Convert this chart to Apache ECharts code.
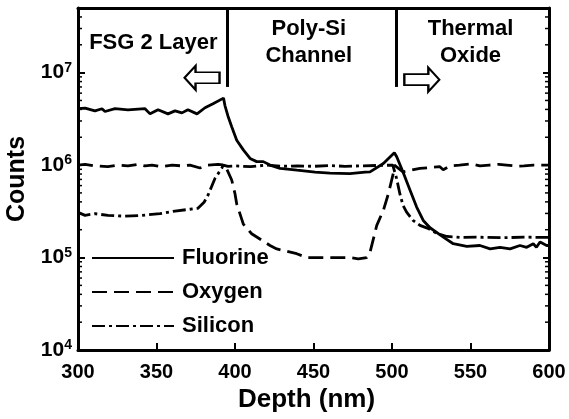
<!DOCTYPE html>
<html>
<head>
<meta charset="utf-8">
<script src="https://cdn.jsdelivr.net/npm/echarts@6/dist/echarts.min.js"></script>
<style>
  html, body { margin: 0; padding: 0; background: #fff; }
  #chart { width: 569px; height: 419px; }
</style>
</head>
<body>
<div id="chart"></div>
<script>
// depth (nm) / counts
const fluorine = [
  [300, 4.07e6], [304.5, 4.13e6], [310.8, 3.86e6], [315.3, 4.07e6], [317.2, 3.8e6],
  [323.6, 4.07e6], [331.8, 3.96e6], [342.7, 4.07e6], [345.9, 3.58e6], [351, 3.96e6],
  [357.3, 3.58e6], [361.8, 3.86e6], [366.2, 3.67e6], [370, 3.96e6], [375.8, 3.58e6],
  [380.9, 4.17e6], [386, 4.6e6], [392.7, 5.3e6], [393.6, 4.4e6], [395.5, 3.4e6],
  [397.9, 2.6e6], [401.1, 1.86e6], [405.3, 1.46e6], [409.6, 1.18e6], [413.8, 1.09e6],
  [418, 1.09e6], [422.3, 1.0e6], [428.7, 9.2e5], [439.5, 8.8e5], [451, 8.4e5],
  [460.5, 8.2e5], [473.2, 8.1e5], [482.8, 8.4e5], [486, 8.45e5], [494.5, 1.04e6],
  [501.5, 1.36e6], [503, 1.23e6], [507, 8.4e5], [511.5, 5.35e5], [515.7, 3.52e5],
  [519.9, 2.52e5], [524.2, 2.1e5], [532.7, 1.66e5], [539, 1.41e5], [547.6, 1.32e5],
  [556, 1.35e5], [562.5, 1.24e5], [568.8, 1.29e5], [575.2, 1.24e5], [581.5, 1.35e5],
  [585.8, 1.29e5], [590, 1.41e5], [592, 1.29e5], [594.3, 1.47e5], [598.5, 1.35e5],
  [600, 1.35e5]
];
const oxygen = [
  [300, 1.0e6], [304.5, 1.02e6], [310.8, 0.98e6], [319, 0.96e6], [325.5, 1.0e6],
  [331.8, 0.98e6], [338.2, 1.02e6], [342.7, 0.98e6], [347.1, 1.0e6], [353.5, 0.96e6],
  [359.9, 1.0e6], [366.2, 0.98e6], [371.3, 1.0e6], [377.7, 0.93e6], [382.8, 1.0e6],
  [389.2, 1.02e6], [393.6, 1.0e6], [397.9, 6.9e5], [400, 4.9e5], [401.1, 3.8e5],
  [405.3, 2.3e5], [410.6, 1.81e5], [422.3, 1.35e5], [426.6, 1.24e5], [439.3, 1.1e5],
  [445.7, 1.0e5], [456.2, 1.0e5], [462.6, 1.0e5], [473.2, 1.0e5], [478.5, 9.7e4],
  [483.9, 1.0e5], [486, 1.14e5], [490.3, 2.23e5], [494.5, 3.24e5], [497.7, 4.9e5],
  [500.8, 8.1e5], [501.5, 1.0e6], [507, 8.45e5], [517.8, 9.2e5], [530.5, 0.96e6],
  [532.6, 0.89e6], [537, 0.98e6], [543, 1.0e6], [550, 1.03e6], [556, 0.98e6],
  [562, 1.0e6], [568, 1.02e6], [573, 1.0e6], [580, 0.97e6], [584, 0.98e6],
  [590, 1.0e6], [600, 1.0e6]
];
const silicon = [
  [300, 3.08e5], [304.5, 2.86e5], [310.8, 2.98e5], [319.1, 2.86e5], [330, 2.8e5],
  [340.8, 2.86e5], [352.2, 2.98e5], [361.8, 3.18e5], [371.3, 3.33e5], [376.4, 3.41e5],
  [380.3, 3.96e5], [382.8, 4.72e5], [387.3, 7.2e5], [391.5, 9.2e5], [392.5, 1.0e6],
  [395.5, 0.97e6], [400, 0.98e6], [410, 0.96e6], [420, 1.0e6], [430, 0.97e6],
  [440, 0.98e6], [450, 0.97e6], [460, 0.99e6], [470, 0.97e6], [480, 0.98e6],
  [490, 0.99e6], [500.5, 1.0e6], [502.9, 7.2e5], [505, 4.9e5], [507, 3.67e5],
  [509.3, 3.1e5], [513.4, 2.52e5], [517.8, 2.23e5], [522.9, 2.07e5], [528.7, 1.82e5],
  [535, 1.69e5], [543.3, 1.65e5], [555, 1.66e5], [570, 1.64e5], [585, 1.66e5],
  [600, 1.65e5]
];

const seriesNames = ['Fluorine', 'Oxygen', 'Silicon'];
const minorTicks = [
  2e4, 3e4, 4e4, 5e4, 6e4, 7e4, 8e4, 9e4,
  2e5, 3e5, 4e5, 5e5, 6e5, 7e5, 8e5, 9e5,
  2e6, 3e6, 4e6, 5e6, 6e6, 7e6, 8e6, 9e6,
  2e7, 3e7, 4e7
];
// layer boundaries (nm) and region labels
const boundaries = [395, 503];
const regions = [
  { text: 'FSG 2 Layer', at: [348, 2.1e7] },
  { text: 'Poly-Si\nChannel', at: [447, 2.1e7] },
  { text: 'Thermal\nOxide', at: [550, 2.1e7] }
];

const font = 'Liberation Sans, Arial, sans-serif';
const chart = echarts.init(document.getElementById('chart'));

const leftArrow = 'path://M0,12 L11,0 L11,6.5 L35,6.5 L35,17.5 L11,17.5 L11,24 Z';
const rightArrow = 'path://M35,12 L24,0 L24,6.5 L0,6.5 L0,17.5 L24,17.5 L24,24 Z';

chart.setOption({
  animation: false,
  backgroundColor: '#fff',
  grid: { left: 78, right: 20, top: 8, bottom: 69, containLabel: false, outerBoundsMode: 'none' },
  legend: {
    data: seriesNames,
    orient: 'vertical',
    left: 86,
    top: 242,
    itemWidth: 82,
    itemHeight: 14,
    itemGap: 12,
    itemStyle: { opacity: 0 },
    textStyle: { fontFamily: font, fontWeight: 'bold', fontSize: 22, color: '#000', lineHeight: 22, padding: [0, 0, 0, 3] }
  },
  xAxis: [{
    type: 'value',
    min: 300, max: 600, interval: 50,
    name: 'Depth (nm)',
    nameLocation: 'middle',
    nameGap: 34,
    nameTextStyle: { fontFamily: font, fontWeight: 'bold', fontSize: 26, color: '#000', padding: [0, 14, 0, 0] },
    axisLine: { lineStyle: { color: '#000', width: 3 } },
    axisTick: { inside: true, length: 7, lineStyle: { color: '#000', width: 2 } },
    axisLabel: { margin: 12, fontFamily: font, fontWeight: 'bold', fontSize: 20, color: '#000' },
    splitLine: { show: false }
  }, {
    type: 'value',
    position: 'top',
    min: 300, max: 600,
    axisLine: { show: true, lineStyle: { color: '#000', width: 3 } },
    axisTick: { show: false },
    axisLabel: { show: false },
    splitLine: { show: false }
  }],
  yAxis: [{
    type: 'log',
    min: 1e4, max: 5e7,
    name: 'Counts',
    nameLocation: 'middle',
    nameGap: 46,
    nameTextStyle: { fontFamily: font, fontWeight: 'bold', fontSize: 25, color: '#000' },
    axisLine: { show: true, lineStyle: { color: '#000', width: 3 } },
    axisTick: { inside: true, length: 7, lineStyle: { color: '#000', width: 2 } },
    axisLabel: {
      margin: 6,
      formatter: function (v) {
        const e = Math.round(Math.log10(v));
        if (Math.abs(Math.log10(v) - e) > 0.01) return '';
        return '{b|10}{s|' + e + '}';
      },
      rich: {
        b: { fontFamily: font, fontWeight: 'bold', fontSize: 21, color: '#000' },
        s: { fontFamily: font, fontWeight: 'bold', fontSize: 14, color: '#000', padding: [0, 0, 9, 0] }
      }
    },
    splitLine: { show: false }
  }, {
    type: 'log',
    position: 'right',
    min: 1e4, max: 5e7,
    axisLine: { show: true, lineStyle: { color: '#000', width: 3 } },
    axisTick: { inside: true, length: 6, lineStyle: { color: '#000', width: 2 } },
    axisLabel: { show: false },
    splitLine: { show: false }
  }],
  series: [
    {
      name: 'Fluorine', type: 'line', data: fluorine, symbol: 'none',
      lineStyle: { color: '#000', width: 2.8 },
      itemStyle: { color: '#000' },
      markLine: {
        silent: true,
        symbol: ['none', 'none'],
        label: { show: false },
        lineStyle: { color: '#000', width: 3, type: 'solid' },
        data: boundaries.map(d => [{ coord: [d, 5e7] }, { coord: [d, 7e6] }])
      },
      markPoint: {
        silent: true,
        data: regions.map(r => ({
          coord: r.at, symbol: 'circle', symbolSize: 1,
          itemStyle: { color: 'transparent' },
          label: {
            show: true, position: 'inside', formatter: r.text,
            fontFamily: font, fontWeight: 'bold', fontSize: 22, lineHeight: 27, color: '#000'
          }
        })).concat([
          { coord: [379, 8.8e6], symbol: leftArrow, symbolSize: [35, 24],
            itemStyle: { color: '#fff', borderColor: '#000', borderWidth: 2 }, label: { show: false } },
          { coord: [519, 8.4e6], symbol: rightArrow, symbolSize: [35, 24],
            itemStyle: { color: '#fff', borderColor: '#000', borderWidth: 2 }, label: { show: false } }
        ])
      }
    },
    {
      name: 'Oxygen', type: 'line', data: oxygen, symbol: 'none',
      lineStyle: { color: '#000', width: 2.8, type: [15, 7] },
      itemStyle: { color: '#000' }
    },
    {
      name: 'Silicon', type: 'line', data: silicon, symbol: 'none',
      lineStyle: { color: '#000', width: 2.8, type: [13, 4, 3, 4] },
      itemStyle: { color: '#000' }
    },
    {
      // minor ticks at 2..9 x 10^n on both log axes
      type: 'custom',
      silent: true,
      data: minorTicks.map(v => [300, v]),
      encode: { x: 0, y: 1 },
      renderItem: function (params, api) {
        const v = api.value(1);
        const l = api.coord([300, v]);
        const r = api.coord([600, v]);
        return {
          type: 'group',
          children: [
            { type: 'line', shape: { x1: l[0], y1: l[1], x2: l[0] + 4, y2: l[1] }, style: { stroke: '#000', lineWidth: 1.5 } },
            { type: 'line', shape: { x1: r[0] - 4, y1: r[1], x2: r[0], y2: r[1] }, style: { stroke: '#000', lineWidth: 1.5 } }
          ]
        };
      }
    }
  ]
});
</script>
</body>
</html>
